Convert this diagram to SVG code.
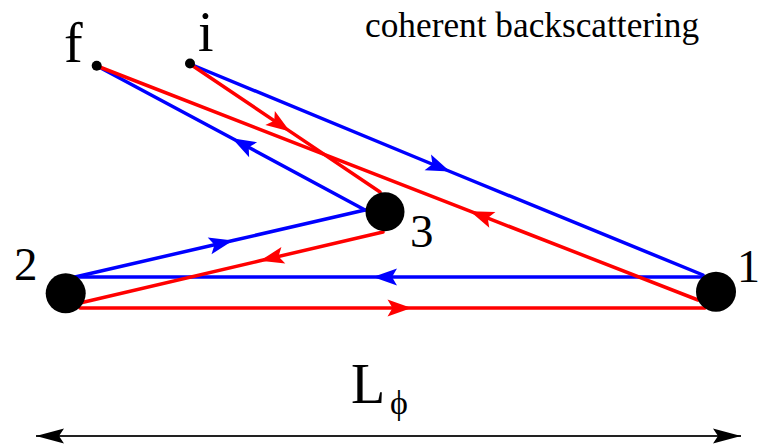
<svg xmlns="http://www.w3.org/2000/svg" width="759" height="444" viewBox="0 0 759 444">
<style>
.b{fill:none;stroke:#0000ff;stroke-width:3.5;stroke-linecap:round;marker-mid:url(#ab)}
.r{fill:none;stroke:#ff0000;stroke-width:3.5;stroke-linecap:round;marker-mid:url(#ar)}
.node{fill:#000}
.lbl{font-family:"Liberation Serif","Times New Roman",serif;fill:#000}
</style>
<defs>
<marker id="ab" markerUnits="userSpaceOnUse" viewBox="-26 -10 27 20" refX="0" refY="0" markerWidth="27" markerHeight="20" orient="auto" overflow="visible">
<path d="M0,0 L-24,-8.5 L-19,0 L-24,8.5 Z" fill="#0000ff"/>
</marker>
<marker id="ar" markerUnits="userSpaceOnUse" viewBox="-26 -10 27 20" refX="0" refY="0" markerWidth="27" markerHeight="20" orient="auto" overflow="visible">
<path d="M0,0 L-24,-8.5 L-19,0 L-24,8.5 Z" fill="#ff0000"/>
</marker>
<marker id="ak" markerUnits="userSpaceOnUse" viewBox="-29 -8 30 16" refX="0" refY="0" markerWidth="30" markerHeight="16" orient="auto-start-reverse" overflow="visible">
<path d="M0,0 L-28,-7.5 L-23,0 L-28,7.5 Z" fill="#000"/>
</marker>
</defs>
<g id="connectors">
<path class="b" d="M190,64 L450,171.5 L703,275"/>
<path class="b" d="M703,277 L373,277 L75,277"/>
<path class="b" d="M75,277 L233,240.5 L365,210"/>
<path class="b" d="M365,210 L232,138.3 L97,66"/>
<path class="r" d="M190,64 L290,131.4 L380,192"/>
<path class="r" d="M383,232 L260,260.8 L80,303"/>
<path class="r" d="M80,308 L411.5,308 L705,308"/>
<path class="r" d="M698,300 L470,211.2 L97,66"/>
<line x1="36" y1="436" x2="741" y2="436" stroke="#222" stroke-width="2" marker-start="url(#ak)" marker-end="url(#ak)"/>
</g>
<g id="node-f">
<circle class="node" cx="96.7" cy="65.7" r="5"/>
<text class="lbl" x="64" y="62" font-size="56">f</text>
</g>
<g id="node-i">
<circle class="node" cx="190" cy="63.5" r="5"/>
<text class="lbl" x="198" y="51" font-size="56">i</text>
</g>
<g id="node-1">
<circle class="node" cx="716" cy="291.7" r="20"/>
<text class="lbl" x="737" y="282" font-size="46">1</text>
</g>
<g id="node-2">
<circle class="node" cx="65.7" cy="293.3" r="20"/>
<text class="lbl" x="14" y="280" font-size="47">2</text>
</g>
<g id="node-3">
<circle class="node" cx="385" cy="211.7" r="19.5"/>
<text class="lbl" x="410" y="247" font-size="47">3</text>
</g>
<g id="title">
<text class="lbl" x="365" y="37" font-size="35.3">coherent backscattering</text>
</g>
<g id="length-label">
<text class="lbl" x="351" y="403" font-size="56">L</text>
<text class="lbl" x="390" y="414" font-size="34">ϕ</text>
</g>
</svg>
